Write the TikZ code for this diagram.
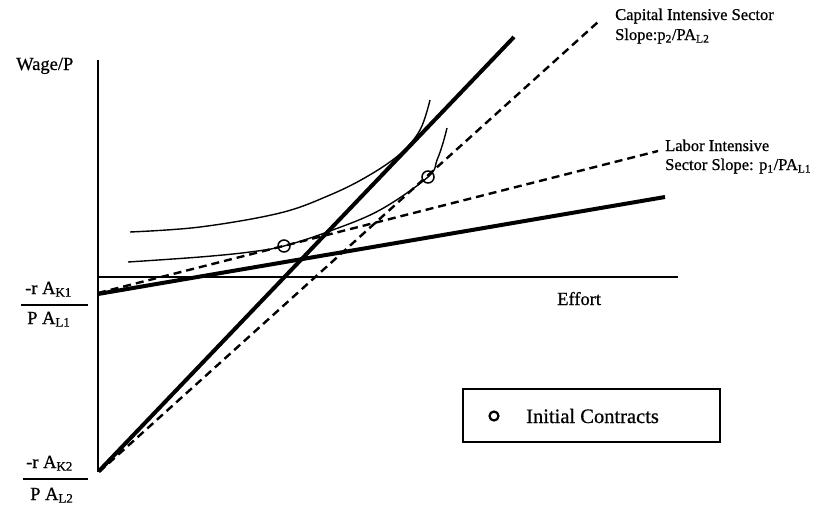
\documentclass[tikz,border=0pt]{standalone}
\usepackage{fontspec}
\setmainfont{Liberation Serif}[FakeBold=0.7]
\begin{document}
\begin{tikzpicture}[x=1pt,y=-1pt,
  axis/.style={line width=2.2pt},
  thickline/.style={line width=4pt},
  dashline/.style={line width=2.4pt, dash pattern=on 8pt off 5pt},
  curveline/.style={line width=1.4pt},
  contract/.style={circle, draw, line width=1.5pt, minimum size=12pt, inner sep=0pt},
  lbl/.style={font=\fontsize{16.5}{19}\selectfont, inner sep=0pt, anchor=base west},
  biglbl/.style={font=\fontsize{18.5}{21}\selectfont, inner sep=0pt, anchor=base west},
  legendtxt/.style={font=\fontsize{20.5}{23}\selectfont, inner sep=0pt, anchor=base west},
]
\useasboundingbox (0,0) rectangle (834,506);
% axes
\coordinate (ytop) at (98,60);
\coordinate (ybot) at (98,472);
\coordinate (xl) at (98,277);
\coordinate (xr) at (678,277);
\draw[axis] (ytop) -- (ybot);
\draw[axis] (xl) -- (xr);
% line ends
\coordinate (L0) at (98,294);
\coordinate (L1) at (665,197);
\coordinate (LD0) at (98,293);
\coordinate (LD1) at (658,151);
\coordinate (K0) at (99,471);
\coordinate (K1) at (514,37);
\coordinate (KD0) at (99,472);
\coordinate (KD1) at (598,22);
\draw[thickline] (L0) -- (L1);
\draw[thickline] (K0) -- (K1);
\draw[dashline] (LD0) -- (LD1);
\draw[dashline] (KD0) -- (KD1);
% curves
\draw[curveline] plot[smooth, tension=0.6] coordinates {(130,232) (200,227) (280,213) (330,195) (368,176) (400,154) (420,130) (430,100)};
\draw[curveline] plot[smooth, tension=0.6] coordinates {(128,262) (200,257) (250,252) (284,246) (330,231) (380,210) (428,177) (437,160) (443,143) (447,128)};
% contracts
\node[contract] (c1) at (284,246) {};
\node[contract] (c2) at (428,177) {};
% labels
\node[biglbl] (wage) at (16,70) {Wage/P};
\node[biglbl] (effort) at (557,305) {Effort};
\node[lbl] (cap1) at (615,20) {Capital Intensive Sector};
\node[lbl] (cap2) at (615,40) {Slope:p\textsubscript{2}/PA\textsubscript{L2}};
\node[lbl] (lab1) at (665,151) {Labor Intensive};
\node[lbl] (lab2) at (665,170) {Sector Slope: p\textsubscript{1}/PA\textsubscript{L1}};
% fractions
\node[biglbl] (n1) at (25,294) {-r A\textsubscript{K1}};
\coordinate (b1l) at (21,305);
\coordinate (b1r) at (88,305);
\draw[line width=1.6pt] (b1l) -- (b1r);
\node[biglbl] (d1) at (27,324) {P A\textsubscript{L1}};
\node[biglbl] (n2) at (26,468) {-r A\textsubscript{K2}};
\coordinate (b2l) at (23,479);
\coordinate (b2r) at (88,479);
\draw[line width=1.6pt] (b2l) -- (b2r);
\node[biglbl] (d2) at (30,500) {P A\textsubscript{L2}};
% legend
\node[draw, line width=1.8pt, minimum width=257pt, minimum height=53pt, inner sep=0pt] (legend) at (591.5,415.5) {};
\node[circle, draw, line width=2.2pt, minimum size=9pt, inner sep=0pt] (lc) at (494,416) {};
\node[legendtxt] (ltxt) at (526,423) {Initial Contracts};
\end{tikzpicture}
\end{document}
